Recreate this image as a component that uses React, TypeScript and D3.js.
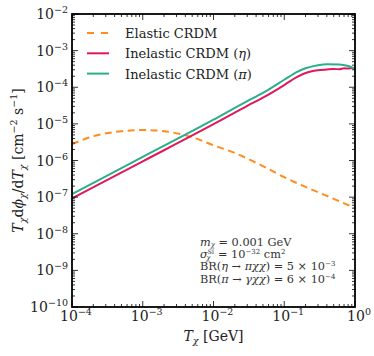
import React, { useEffect, useRef } from "react";
import * as d3 from "d3";

// energies (GeV) and fluxes
const elasticT = [1e-4, 2e-4, 5e-4, 1e-3, 2e-3, 5e-3, 1e-2, 2e-2, 5e-2, 1e-1, 2e-1, 5e-1, 1];
const elasticFlux = [2.8e-6, 4.6e-6, 6.3e-6, 6.8e-6, 6.3e-6, 4.3e-6, 2.6e-6, 1.6e-6, 7e-7, 3.5e-7, 1.9e-7, 9e-8, 5e-8];

const etaT = [1e-4, 1e-3, 1e-2, 3e-2, 5e-2, 1e-1, 1.5e-1, 2e-1, 3e-1, 4e-1, 5e-1, 6e-1, 7e-1, 8e-1, 1];
const etaFlux = [9.3e-8, 9.5e-7, 9.8e-6, 3.1e-5, 5.2e-5, 1.15e-4, 1.9e-4, 2.45e-4, 2.9e-4, 3.05e-4, 3.15e-4, 3.1e-4, 3.3e-4, 3.25e-4, 3.4e-4];

const piT = [1e-4, 1e-3, 1e-2, 3e-2, 5e-2, 1e-1, 1.5e-1, 2e-1, 3e-1, 4e-1, 6e-1, 8e-1, 1];
const piFlux = [1.2e-7, 1.25e-6, 1.3e-5, 4.2e-5, 7e-5, 1.6e-4, 2.6e-4, 3.3e-4, 4e-4, 4.25e-4, 4.2e-4, 3.8e-4, 3.2e-4];

const xTickExp = [-4, -3, -2, -1, 0];
const yTickExp = [-10, -9, -8, -7, -6, -5, -4, -3, -2];

const legendLabels = ["Elastic CRDM", "Inelastic CRDM (", "Inelastic CRDM ("];
const legendSymbols = ["", "η", "π"];

const SERIF = "'DejaVu Serif', 'Liberation Serif', serif";

const App = () => {
  const ref = useRef<SVGSVGElement | null>(null);

  useEffect(() => {
    const svg = d3.select(ref.current);
    svg.selectAll("*").remove();

    const width = 374;
    const height = 356;
    const margin = { top: 14, right: 19, bottom: 49, left: 72 };

    const x = d3.scaleLog().domain([1e-4, 1]).range([margin.left, width - margin.right]);
    const y = d3.scaleLog().domain([1e-10, 1e-2]).range([height - margin.bottom, margin.top]);

    const x0 = margin.left, x1 = width - margin.right;
    const y0 = height - margin.bottom, y1 = margin.top;

    const lineGen = d3
      .line<[number, number]>()
      .x(d => x(d[0]))
      .y(d => y(d[1]))
      .curve(d3.curveMonotoneX);

    const clip = svg.append("clipPath").attr("id", "plotclip");
    clip.append("rect").attr("x", x0).attr("y", y1).attr("width", x1 - x0).attr("height", y0 - y1);

    const plot = svg.append("g").attr("clip-path", "url(#plotclip)");

    plot
      .append("path")
      .datum(elasticT.map((t, i) => [t, elasticFlux[i]] as [number, number]))
      .attr("fill", "none")
      .attr("stroke", "#ff8c1c")
      .attr("stroke-width", 2)
      .attr("stroke-dasharray", "7,4.5")
      .attr("d", lineGen);

    plot
      .append("path")
      .datum(etaT.map((t, i) => [t, etaFlux[i]] as [number, number]))
      .attr("fill", "none")
      .attr("stroke", "#e0195c")
      .attr("stroke-width", 2)
      .attr("d", lineGen);

    plot
      .append("path")
      .datum(piT.map((t, i) => [t, piFlux[i]] as [number, number]))
      .attr("fill", "none")
      .attr("stroke", "#2aae8c")
      .attr("stroke-width", 2)
      .attr("d", lineGen);

    // ticks, inward on every side
    const ticks = svg.append("g").attr("stroke", "#000").attr("stroke-width", 0.8);
    x.ticks().forEach(t => {
      const major = Math.abs(Math.log10(t) - Math.round(Math.log10(t))) < 1e-9;
      const len = major ? 6 : 3;
      const px = x(t);
      ticks.append("line").attr("x1", px).attr("x2", px).attr("y1", y0).attr("y2", y0 - len);
      ticks.append("line").attr("x1", px).attr("x2", px).attr("y1", y1).attr("y2", y1 + len);
    });
    y.ticks().forEach(t => {
      const major = Math.abs(Math.log10(t) - Math.round(Math.log10(t))) < 1e-9;
      const len = major ? 6 : 3;
      const py = y(t);
      ticks.append("line").attr("y1", py).attr("y2", py).attr("x1", x0).attr("x2", x0 + len);
      ticks.append("line").attr("y1", py).attr("y2", py).attr("x1", x1).attr("x2", x1 - len);
    });

    svg
      .append("rect")
      .attr("x", x0)
      .attr("y", y1)
      .attr("width", x1 - x0)
      .attr("height", y0 - y1)
      .attr("fill", "none")
      .attr("stroke", "#000")
      .attr("stroke-width", 1.8);

    // tick labels
    const lab = svg.append("g").attr("font-family", SERIF).attr("fill", "#222");
    xTickExp.forEach(e => {
      const t = lab
        .append("text")
        .attr("x", x(Math.pow(10, e)) + 4)
        .attr("y", y0 + 14)
        .attr("text-anchor", "middle")
        .attr("font-size", 14);
      t.append("tspan").text("10");
      t.append("tspan").attr("dy", -6).attr("font-size", 9.5).text(e === 0 ? "0" : "−" + Math.abs(e));
    });
    yTickExp.forEach(e => {
      const t = lab
        .append("text")
        .attr("x", x0 - 4)
        .attr("y", y(Math.pow(10, e)) + 5)
        .attr("text-anchor", "end")
        .attr("font-size", 14);
      t.append("tspan").text("10");
      t.append("tspan").attr("dy", -6).attr("font-size", 9.5).text("−" + Math.abs(e));
    });

    // axis titles
    const xl = lab
      .append("text")
      .attr("x", (x0 + x1) / 2)
      .attr("y", 341)
      .attr("text-anchor", "middle")
      .attr("font-size", 14);
    xl.append("tspan").attr("font-style", "italic").text("T");
    xl.append("tspan").attr("font-style", "italic").attr("font-size", 9.5).attr("dy", 3).text("χ");
    xl.append("tspan").attr("dy", -3).text(" [GeV]");

    const yl = lab
      .append("text")
      .attr("transform", `translate(23,${(y0 + y1) / 2}) rotate(-90)`)
      .attr("text-anchor", "middle")
      .attr("font-size", 14);
    yl.append("tspan").attr("font-style", "italic").text("T");
    yl.append("tspan").attr("font-style", "italic").attr("font-size", 9.5).attr("dy", 3).text("χ");
    yl.append("tspan").attr("dy", -3).text("d");
    yl.append("tspan").attr("font-style", "italic").text("ϕ");
    yl.append("tspan").attr("font-style", "italic").attr("font-size", 9.5).attr("dy", 3).text("χ");
    yl.append("tspan").attr("dy", -3).text("/d");
    yl.append("tspan").attr("font-style", "italic").text("T");
    yl.append("tspan").attr("font-style", "italic").attr("font-size", 9.5).attr("dy", 3).text("χ");
    yl.append("tspan").attr("dy", -3).text(" [cm");
    yl.append("tspan").attr("font-size", 9.5).attr("dy", -6).text("−2");
    yl.append("tspan").attr("dy", 6).text(" s");
    yl.append("tspan").attr("font-size", 9.5).attr("dy", -6).text("−1");
    yl.append("tspan").attr("dy", 6).text("]");

    // legend
    const colors = ["#ff8c1c", "#e0195c", "#2aae8c"];
    legendLabels.forEach((l, i) => {
      const ly = 33 + i * 20.3;
      lab
        .append("line")
        .attr("x1", 87)
        .attr("x2", 109)
        .attr("y1", ly)
        .attr("y2", ly)
        .attr("stroke", colors[i])
        .attr("stroke-width", 2)
        .attr("stroke-dasharray", i === 0 ? "7,7" : null);
      const t = lab
        .append("text")
        .attr("x", 125)
        .attr("y", ly + 5)
        .attr("font-size", 13);
      t.append("tspan").text(l);
      if (legendSymbols[i]) {
        t.append("tspan").attr("font-style", "italic").text(legendSymbols[i]);
        t.append("tspan").text(")");
      }
    });

    // parameter note
    const note = lab.append("g").attr("font-size", 11.3).attr("fill", "#333");
    const n1 = note.append("text").attr("x", 200).attr("y", 245.5);
    n1.append("tspan").attr("font-style", "italic").text("m");
    n1.append("tspan").attr("font-style", "italic").attr("font-size", 7).attr("dy", 1.5).text("χ");
    n1.append("tspan").attr("dy", -1.5).text(" = 0.001 GeV");

    const n2 = note.append("text").attr("x", 200).attr("y", 257.5);
    n2.append("tspan").attr("font-style", "italic").text("σ");
    n2.append("tspan").attr("font-size", 6).attr("dy", -4).text("SI");
    n2.append("tspan").attr("font-style", "italic").attr("font-size", 7).attr("dx", -8).attr("dy", 6).text("χ");
    n2.append("tspan").attr("dx", 4).attr("dy", -2).text(" = 10");
    n2.append("tspan").attr("font-size", 7).attr("dy", -4).text("−32");
    n2.append("tspan").attr("dy", 4).text(" cm");
    n2.append("tspan").attr("font-size", 7).attr("dy", -4).text("2");

    const n3 = note.append("text").attr("x", 200).attr("y", 270);
    n3.append("tspan").text("BR(");
    n3.append("tspan").attr("font-style", "italic").text("η");
    n3.append("tspan").text(" → ");
    n3.append("tspan").attr("font-style", "italic").text("πχχ");
    n3.append("tspan").text(") = 5 × 10");
    n3.append("tspan").attr("font-size", 7).attr("dy", -4).text("−3");

    const n4 = note.append("text").attr("x", 200).attr("y", 282.5);
    n4.append("tspan").text("BR(");
    n4.append("tspan").attr("font-style", "italic").text("π");
    n4.append("tspan").text(" → ");
    n4.append("tspan").attr("font-style", "italic").text("γχχ");
    n4.append("tspan").text(") = 6 × 10");
    n4.append("tspan").attr("font-size", 7).attr("dy", -4).text("−4");
  }, []);

  return (
    <svg
      ref={ref}
      width={374}
      height={356}
      style={{ position: "absolute", left: 0, top: 0, background: "#fff" }}
    />
  );
};

export default App;
